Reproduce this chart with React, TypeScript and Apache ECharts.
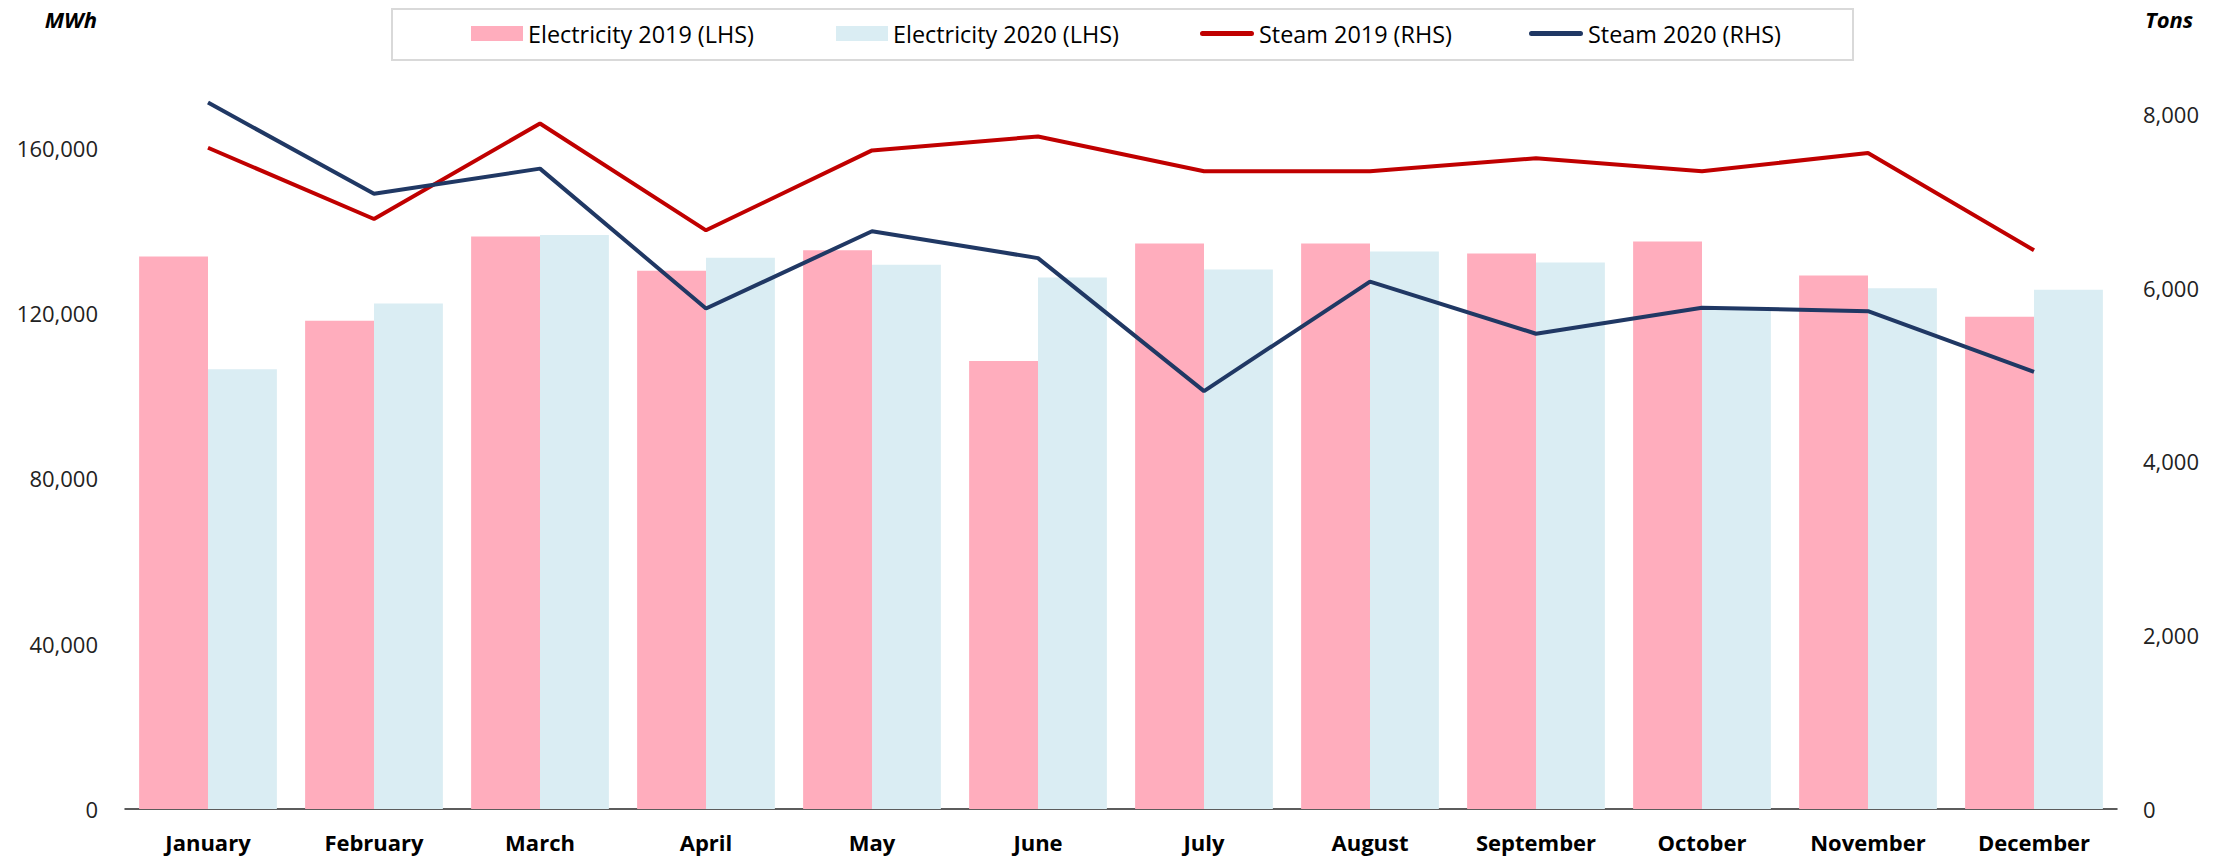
import React, { useEffect, useRef } from "react";
import * as echarts from "echarts";

const months = ["January", "February", "March", "April", "May", "June", "July", "August", "September", "October", "November", "December"];
const elec2019 = [133700, 118100, 138500, 130200, 135200, 108400, 136800, 136800, 134400, 137300, 129100, 119100];
const elec2020 = [106400, 122300, 138900, 133400, 131700, 128600, 130500, 134900, 132200, 121000, 126000, 125600];
const steam2019 = [7610, 6790, 7890, 6660, 7580, 7740, 7340, 7340, 7490, 7340, 7550, 6430];
const steam2020 = [8130, 7080, 7370, 5760, 6650, 6340, 4810, 6070, 5470, 5770, 5730, 5030];
const seriesNames = ["Electricity 2019 (LHS)", "Electricity 2020 (LHS)", "Steam 2019 (RHS)", "Steam 2020 (RHS)"];

const FONT = "'Open Sans', 'Noto Sans', sans-serif";

// rounded stripe in a 54x15 box (tiny corner marks keep the bounding box so the icon is not stretched)
const LINE_ICON =
  "path://M0,0 L0.01,0 L0.01,0.01 Z M54,15 L53.99,15 L53.99,14.99 Z M2.5,5 L51.5,5 A2.5,2.5 0 0 1 51.5,10 L2.5,10 A2.5,2.5 0 0 1 2.5,5 Z";

const legendLefts = [471, 836, 1200, 1529];

export default function App() {
  const ref = useRef<HTMLDivElement>(null);
  useEffect(() => {
    if (!ref.current) return;
    const chart = echarts.init(ref.current, null, { renderer: "svg" });
    const fmt = (v: number) => v.toLocaleString("en-US");
    const legends = seriesNames.map((name, i) => ({
      left: legendLefts[i],
      top: 22,
      padding: 0,
      itemWidth: i < 2 ? 52 : 54,
      itemHeight: 15,
      textStyle: { fontFamily: FONT, fontSize: 23.4, color: "#000" },
      data: [{ name, icon: i < 2 ? "rect" : LINE_ICON }],
    }));
    chart.setOption({
      animation: false,
      backgroundColor: "#ffffff",
      textStyle: { fontFamily: FONT },
      legend: legends,
      graphic: [
        {
          type: "rect",
          shape: { x: 392, y: 9, width: 1461, height: 51 },
          style: { fill: "none", stroke: "#d9d9d9", lineWidth: 2 },
          silent: true,
        },
        {
          type: "text",
          x: 97,
          y: 19,
          style: { text: "MWh", fontFamily: FONT, fontSize: 22, fontWeight: "bold", fontStyle: "italic", fill: "#000", align: "right", verticalAlign: "middle" },
        },
        {
          type: "text",
          x: 2145,
          y: 19,
          style: { text: "Tons", fontFamily: FONT, fontSize: 22, fontWeight: "bold", fontStyle: "italic", fill: "#000", align: "left", verticalAlign: "middle" },
        },
      ],
      grid: { left: 125, right: 113, top: 27, bottom: 51, containLabel: false },
      xAxis: {
        type: "category",
        data: months,
        axisLine: { lineStyle: { color: "#262626", width: 1.5 } },
        axisTick: { show: false },
        axisLabel: { fontFamily: FONT, fontSize: 22, fontWeight: "bold", color: "#000", margin: 22 },
      },
      yAxis: [
        {
          type: "value",
          min: 0,
          max: 189200,
          interval: 40000,
          splitLine: { show: false },
          axisLine: { show: false },
          axisTick: { show: false },
          axisLabel: { fontFamily: FONT, fontSize: 22, color: "#222", margin: 27, showMaxLabel: false, formatter: (v: number) => (v % 40000 === 0 ? fmt(v) : "") },
        },
        {
          type: "value",
          min: 0,
          max: 9000,
          interval: 2000,
          position: "right",
          splitLine: { show: false },
          axisLine: { show: false },
          axisTick: { show: false },
          axisLabel: { fontFamily: FONT, fontSize: 22, color: "#222", margin: 26, showMaxLabel: false, formatter: (v: number) => (v % 2000 === 0 ? fmt(v) : "") },
        },
      ],
      series: [
        { name: seriesNames[0], type: "bar", data: elec2019, barGap: "0%", barCategoryGap: "17%", itemStyle: { color: "#FFADBD" } },
        { name: seriesNames[1], type: "bar", data: elec2020, barGap: "0%", barCategoryGap: "17%", itemStyle: { color: "#DAEDF3" } },
        { name: seriesNames[2], type: "line", yAxisIndex: 1, data: steam2019, symbol: "none", lineStyle: { color: "#C00000", width: 4 }, itemStyle: { color: "#C00000" } },
        { name: seriesNames[3], type: "line", yAxisIndex: 1, data: steam2020, symbol: "none", lineStyle: { color: "#203864", width: 4 }, itemStyle: { color: "#203864" } },
      ],
    });
    return () => chart.dispose();
  }, []);
  return <div ref={ref} style={{ position: "fixed", left: 0, top: 0, width: 2230, height: 860 }} />;
}
